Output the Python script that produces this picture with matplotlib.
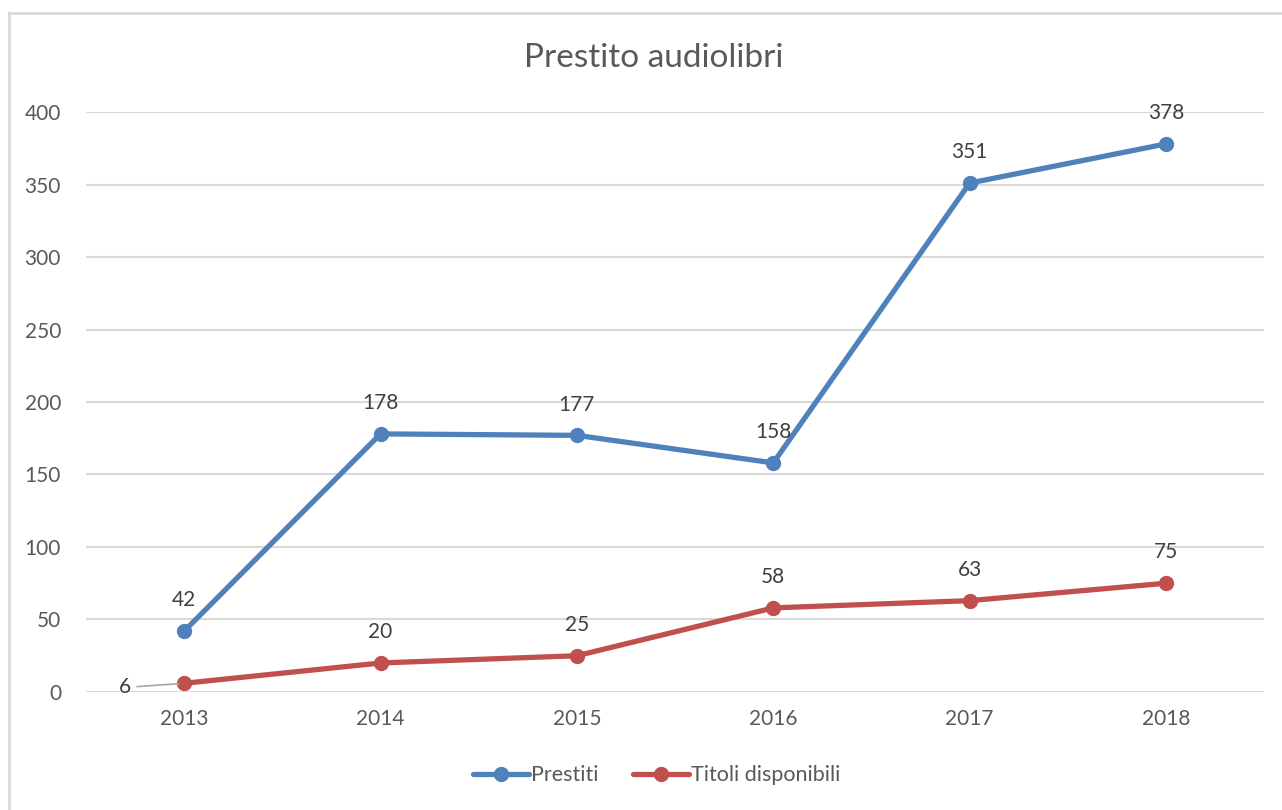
import matplotlib.pyplot as plt
from matplotlib.lines import Line2D

years = ["2013", "2014", "2015", "2016", "2017", "2018"]
prestiti = [42, 178, 177, 158, 351, 378]
titoli = [6, 20, 25, 58, 63, 75]

BLUE = "#4F81BD"
RED = "#C0504D"
TEXT = "#595959"
GRID = "#D9D9D9"

plt.rcParams["font.family"] = ["Lato", "DejaVu Sans"]

fig = plt.figure(figsize=(12.82, 8.10), dpi=100)
ax = fig.add_axes([0.0671, 0.1457, 0.919, 0.716])

x = list(range(len(years)))
ax.plot(x, prestiti, color=BLUE, lw=3.8, marker="o", ms=10, label="Prestiti",
        solid_capstyle="round", zorder=3)
ax.plot(x, titoli, color=RED, lw=3.8, marker="o", ms=10, label="Titoli disponibili",
        solid_capstyle="round", zorder=3)

# value labels above each point
for xi, v in zip(x, prestiti):
    ax.annotate(str(v), (xi, v), xytext=(0, 15), textcoords="offset points",
                ha="center", va="bottom", fontsize=15, color="#404040")
for xi, v in zip(x[1:], titoli[1:]):
    ax.annotate(str(v), (xi, v), xytext=(0, 15), textcoords="offset points",
                ha="center", va="bottom", fontsize=15, color="#404040")
# first red label sits to the left with a leader line
ax.annotate(str(titoli[0]), (x[0], titoli[0]), xytext=(-38, -3), textcoords="offset points",
            ha="right", va="center", fontsize=15, color="#404040",
            arrowprops=dict(arrowstyle="-", color="#A6A6A6", lw=1.2,
                            shrinkA=2, shrinkB=4))

ax.set_xlim(-0.5, len(years) - 0.5)
ax.set_ylim(0, 400)
ax.set_yticks(range(0, 401, 50))
ax.set_xticks(x)
ax.set_xticklabels(years)
ax.tick_params(axis="both", length=0, labelsize=15, colors=TEXT)
ax.tick_params(axis="y", pad=18)
ax.tick_params(axis="x", pad=12)
ax.grid(axis="y", color=GRID, lw=1.5)
ax.set_axisbelow(True)
for s in ax.spines.values():
    s.set_visible(False)

fig.text(0.51, 0.928, "Prestito audiolibri", ha="center", va="center",
         fontsize=24, color=TEXT)

fig.legend(loc="center", bbox_to_anchor=(0.512, 0.043), ncol=2, frameon=False,
           fontsize=15.5, labelcolor=TEXT, handlelength=2.6, handletextpad=0.1,
           columnspacing=1.6)

# chart frame (left and top edges)
fig.add_artist(Line2D([9 / 1282, 9 / 1282], [0, 1 - 13 / 810], color=GRID, lw=2,
                      transform=fig.transFigure))
fig.add_artist(Line2D([9 / 1282, 1], [1 - 13 / 810, 1 - 13 / 810], color=GRID, lw=2,
                      transform=fig.transFigure))

fig.savefig("out.png", dpi=100)
